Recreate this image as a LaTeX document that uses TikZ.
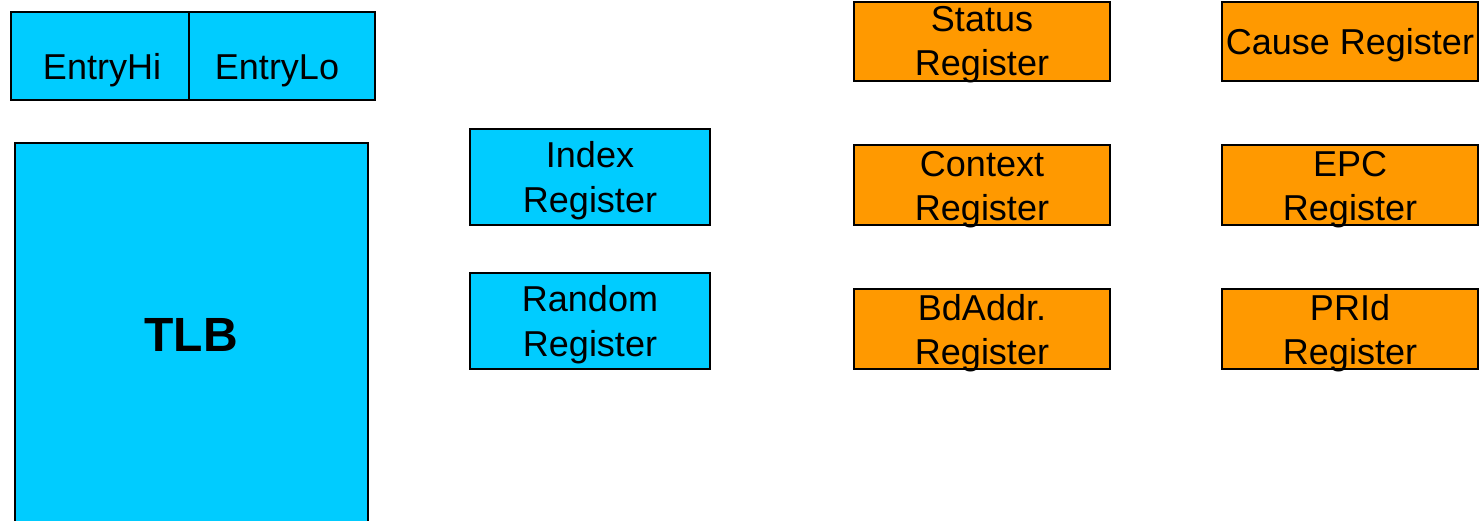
\documentclass[tikz,border=0pt]{standalone}
\usepackage{fontspec}
\setmainfont{Liberation Sans}
\definecolor{regblue}{HTML}{00CCFF}
\definecolor{regorange}{HTML}{FF9900}
\begin{document}
\begin{tikzpicture}[x=1pt,y=-1pt,
  box/.style={draw=black,line width=2pt,inner sep=0pt},
  bluebox/.style={box,fill=regblue},
  orangebox/.style={box,fill=regorange},
  lbl/.style={anchor=base,inner sep=0pt,font=\fontsize{36}{44}\selectfont}]
\useasboundingbox (0,0) rectangle (1484,521);
% Entry registers
\node[bluebox,minimum width=178pt,minimum height=88pt] (ehi) at (100,56) {};
\node[bluebox,minimum width=186pt,minimum height=88pt] (elo) at (282,56) {};
\node[lbl] (ehit) at (102,80) {EntryHi};
\node[lbl] (elot) at (277,80) {EntryLo};
% TLB
\draw[box,fill=regblue] (15,143) rectangle (368,530);
\node[anchor=base,inner sep=0pt,font=\fontsize{48}{56}\selectfont\bfseries] (tlb) at (191,352) {TLB};
% Index / Random
\node[bluebox,minimum width=240pt,minimum height=96pt] (idx) at (590,177) {};
\node[lbl] (idx1) at (590,168) {Index};
\node[lbl] (idx2) at (590,213) {Register};
\node[bluebox,minimum width=240pt,minimum height=96pt] (rnd) at (590,321) {};
\node[lbl] (rnd1) at (590,312) {Random};
\node[lbl] (rnd2) at (590,356) {Register};
% Orange registers
\node[orangebox,minimum width=256pt,minimum height=79pt] (st) at (982,41.5) {};
\node[lbl] (st1) at (982,32) {Status};
\node[lbl] (st2) at (982,76) {Register};
\node[orangebox,minimum width=256pt,minimum height=79pt] (ca) at (1350,41.5) {};
\node[lbl] (ca1) at (1350,55) {Cause Register};
\node[orangebox,minimum width=256pt,minimum height=80pt] (ctx) at (982,185) {};
\node[lbl] (ctx1) at (982,177) {Context};
\node[lbl] (ctx2) at (982,221) {Register};
\node[orangebox,minimum width=256pt,minimum height=80pt] (epc) at (1350,185) {};
\node[lbl] (epc1) at (1350,177) {EPC};
\node[lbl] (epc2) at (1350,221) {Register};
\node[orangebox,minimum width=256pt,minimum height=80pt] (bd) at (982,329) {};
\node[lbl] (bd1) at (982,321) {BdAddr.};
\node[lbl] (bd2) at (982,365) {Register};
\node[orangebox,minimum width=256pt,minimum height=80pt] (pr) at (1350,329) {};
\node[lbl] (pr1) at (1350,321) {PRId};
\node[lbl] (pr2) at (1350,365) {Register};
\end{tikzpicture}
\end{document}
